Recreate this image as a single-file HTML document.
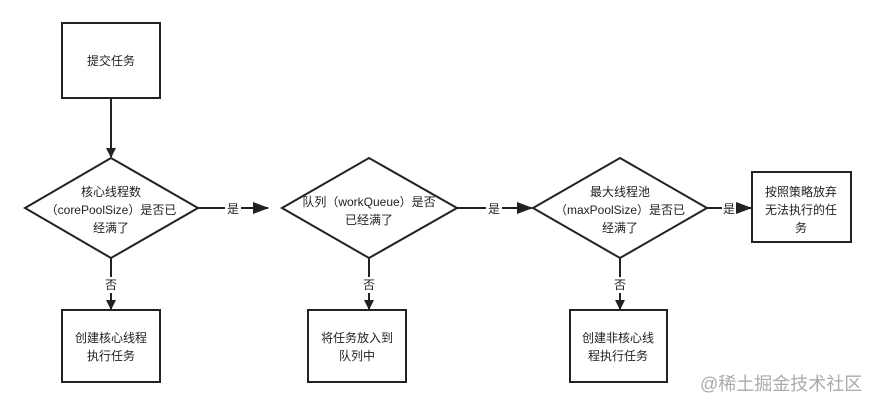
<!DOCTYPE html>
<html><head><meta charset="utf-8"><style>
html,body{margin:0;padding:0;background:#fff;}
svg text{font-family:"Liberation Sans","Noto Sans CJK SC",sans-serif;font-size:12px;fill:#222;}
</style></head><body>
<svg width="877" height="406" viewBox="0 0 877 406" xmlns="http://www.w3.org/2000/svg">
<defs><marker id="a" markerWidth="10" markerHeight="12" refX="9" refY="5" orient="auto" markerUnits="userSpaceOnUse"><path d="M0,0 L10,5 L0,10 Z" fill="#222"/></marker>
<marker id="b" markerWidth="16" markerHeight="12" refX="15" refY="6" orient="auto" markerUnits="userSpaceOnUse"><path d="M0,0 L16,6 L0,12 Z" fill="#222"/></marker></defs>
<g stroke="#222" stroke-width="2" fill="#fff">
<rect x="62" y="23" width="98" height="75"/>
<polygon points="25,208 111,158 198,208 111,258"/>
<polygon points="282,208 369,158 457,208 369,258"/>
<polygon points="533,208 620,158 707,208 620,258"/>
<rect x="752" y="172" width="99" height="70"/>
<rect x="62" y="310" width="98" height="72"/>
<rect x="308" y="310" width="98" height="72"/>
<rect x="570" y="310" width="97" height="72"/>
</g>
<g stroke="#222" stroke-width="2" fill="none">
<line x1="111" y1="98" x2="111" y2="157" marker-end="url(#a)"/>
<line x1="198" y1="208" x2="268" y2="208" marker-end="url(#b)"/>
<line x1="457" y1="208" x2="532" y2="208" marker-end="url(#b)"/>
<line x1="707" y1="208" x2="751" y2="208" marker-end="url(#b)"/>
<line x1="111" y1="258" x2="111" y2="309" marker-end="url(#a)"/>
<line x1="369" y1="258" x2="369" y2="309" marker-end="url(#a)"/>
<line x1="620" y1="258" x2="620" y2="309" marker-end="url(#a)"/>
</g>
<g fill="#fff">
<rect x="225" y="200" width="16" height="16"/>
<rect x="486" y="200" width="16" height="16"/>
<rect x="722" y="200" width="14" height="16"/>
<rect x="104" y="277" width="14" height="16"/>
<rect x="362" y="277" width="14" height="16"/>
<rect x="613" y="277" width="14" height="16"/>
</g>
<g text-anchor="middle">
<text x="111" y="65">提交任务</text>
<text x="111" y="196">核心线程数</text>
<text x="111" y="214">（corePoolSize）是否已</text>
<text x="111" y="232">经满了</text>
<text x="369" y="206">队列（workQueue）是否</text>
<text x="369" y="224">已经满了</text>
<text x="620" y="196">最大线程池</text>
<text x="620" y="214">（maxPoolSize）是否已</text>
<text x="620" y="232">经满了</text>
<text x="801" y="196">按照策略放弃</text>
<text x="801" y="214">无法执行的任</text>
<text x="801" y="232">务</text>
<text x="233" y="213">是</text>
<text x="494" y="213">是</text>
<text x="729" y="213">是</text>
<text x="111" y="289">否</text>
<text x="369" y="289">否</text>
<text x="620" y="289">否</text>
<text x="111" y="342">创建核心线程</text>
<text x="111" y="360">执行任务</text>
<text x="357" y="342">将任务放入到</text>
<text x="357" y="360">队列中</text>
<text x="618" y="342">创建非核心线</text>
<text x="618" y="360">程执行任务</text>
</g>
<text x="700" y="390" style="font-size:18px;fill:#aaa;">@稀土掘金技术社区</text>
</svg>
</body></html>
